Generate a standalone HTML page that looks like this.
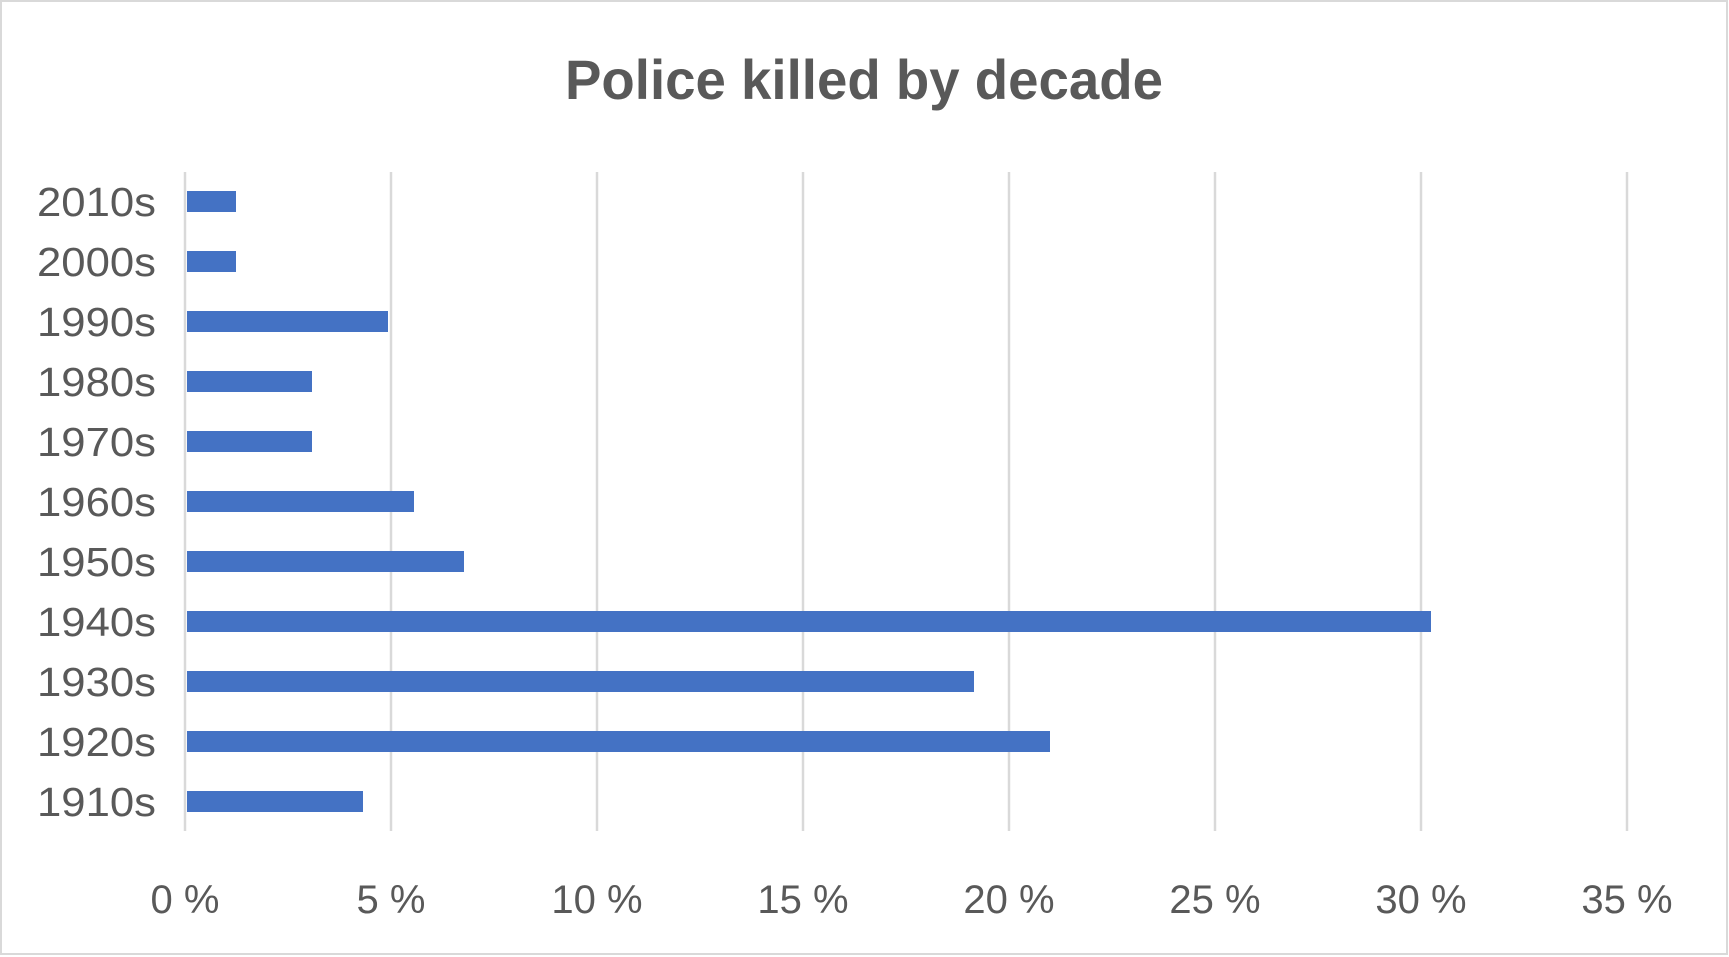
<!DOCTYPE html>
<html><head><meta charset="utf-8"><style>
html,body{margin:0;padding:0;background:#fff;}
svg{display:block;}
</style></head><body>
<svg width="1729" height="957" xmlns="http://www.w3.org/2000/svg">
<rect x="1" y="1" width="1726" height="953" fill="#fff" stroke="#d9d9d9" stroke-width="2"/>
<text x="864" y="99" text-anchor="middle" font-family="Liberation Sans, sans-serif" font-weight="bold" font-size="56" fill="#595959" textLength="598" lengthAdjust="spacingAndGlyphs">Police killed by decade</text>
<g stroke="#d9d9d9" stroke-width="2.5">
<line x1="185" y1="172" x2="185" y2="831"/>
<line x1="391" y1="172" x2="391" y2="831"/>
<line x1="597" y1="172" x2="597" y2="831"/>
<line x1="803" y1="172" x2="803" y2="831"/>
<line x1="1009" y1="172" x2="1009" y2="831"/>
<line x1="1215" y1="172" x2="1215" y2="831"/>
<line x1="1421" y1="172" x2="1421" y2="831"/>
<line x1="1627" y1="172" x2="1627" y2="831"/>
</g>
<g fill="#4472c4">
<rect x="187" y="191" width="49" height="21"/>
<rect x="187" y="251" width="49" height="21"/>
<rect x="187" y="311" width="201" height="21"/>
<rect x="187" y="371" width="125" height="21"/>
<rect x="187" y="431" width="125" height="21"/>
<rect x="187" y="491" width="227" height="21"/>
<rect x="187" y="551" width="277" height="21"/>
<rect x="187" y="611" width="1244" height="21"/>
<rect x="187" y="671" width="787" height="21"/>
<rect x="187" y="731" width="863" height="21"/>
<rect x="187" y="791" width="176" height="21"/>
</g>
<g font-family="Liberation Sans, sans-serif" font-size="41" fill="#595959" text-anchor="end">
<text x="156" y="216" textLength="119" lengthAdjust="spacingAndGlyphs">2010s</text>
<text x="156" y="276" textLength="119" lengthAdjust="spacingAndGlyphs">2000s</text>
<text x="156" y="336" textLength="119" lengthAdjust="spacingAndGlyphs">1990s</text>
<text x="156" y="396" textLength="119" lengthAdjust="spacingAndGlyphs">1980s</text>
<text x="156" y="456" textLength="119" lengthAdjust="spacingAndGlyphs">1970s</text>
<text x="156" y="516" textLength="119" lengthAdjust="spacingAndGlyphs">1960s</text>
<text x="156" y="576" textLength="119" lengthAdjust="spacingAndGlyphs">1950s</text>
<text x="156" y="636" textLength="119" lengthAdjust="spacingAndGlyphs">1940s</text>
<text x="156" y="696" textLength="119" lengthAdjust="spacingAndGlyphs">1930s</text>
<text x="156" y="756" textLength="119" lengthAdjust="spacingAndGlyphs">1920s</text>
<text x="156" y="816" textLength="119" lengthAdjust="spacingAndGlyphs">1910s</text>
</g>
<g font-family="Liberation Sans, sans-serif" font-size="40" fill="#595959" text-anchor="middle">
<text x="185" y="913">0 %</text>
<text x="391" y="913">5 %</text>
<text x="597" y="913">10 %</text>
<text x="803" y="913">15 %</text>
<text x="1009" y="913">20 %</text>
<text x="1215" y="913">25 %</text>
<text x="1421" y="913">30 %</text>
<text x="1627" y="913">35 %</text>
</g>
</svg>
</body></html>
